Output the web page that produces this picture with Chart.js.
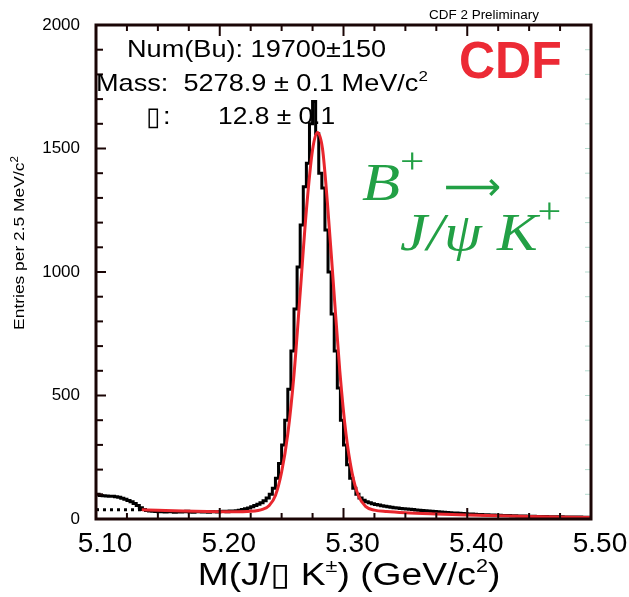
<!DOCTYPE html>
<html>
<head>
<meta charset="utf-8">
<script src="https://cdn.jsdelivr.net/npm/chart.js@4.4.0/dist/chart.umd.min.js"></script>
<style>
  html, body { margin: 0; padding: 0; background: #fff; }
  #wrap { width: 629px; height: 597px; }
</style>
</head>
<body>
<div id="wrap"><canvas id="massPlot" width="629" height="597"></canvas></div>
<script>
// B+ -> J/psi K+ invariant mass, 2.5 MeV bins from 5.100 to 5.500 GeV
var massLow = 5.10;
var binWidth = 0.0025;
var binCounts = [
  105, 100, 95, 94, 93, 92, 92, 90, 88, 84,
  80, 75, 70, 63, 55, 46, 38, 34, 32, 31,
  30, 29, 31, 28, 30, 29, 27, 30, 28, 29,
  31, 28, 27, 29, 30, 28, 29, 27, 30, 29,
  28, 30, 31, 29, 32, 31, 33, 35, 38, 42,
  45, 50, 55, 60, 66, 74, 85, 100, 125, 165,
  225, 300, 400, 525, 680, 850, 1020, 1190, 1345, 1440,
  1600, 1690, 1560, 1400, 1340, 1170, 1000, 830, 680, 530,
  400, 300, 220, 165, 125, 100, 85, 76, 70, 66,
  62, 59, 57, 54, 52, 50, 48, 46, 45, 43,
  42, 40, 39, 38, 36, 35, 34, 33, 32, 31,
  30, 29, 28, 27, 26, 25, 24, 24, 23, 22,
  21, 20, 20, 19, 18, 18, 17, 17, 16, 16,
  15, 15, 14, 14, 14, 13, 13, 12, 12, 12,
  11, 11, 11, 10, 10, 10, 10, 9, 9, 9,
  9, 9, 8, 8, 8, 8, 8, 8, 7, 7
];

// fitted signal + background curve
var fitMass = [5.137, 5.150, 5.170, 5.190, 5.210, 5.225, 5.235, 5.240, 5.245, 5.250,
  5.255, 5.260, 5.265, 5.270, 5.275, 5.2789, 5.283, 5.287, 5.292, 5.297,
  5.302, 5.307, 5.312, 5.318, 5.325, 5.335, 5.350, 5.375, 5.400, 5.450, 5.500];
var fitEntries = [37, 35, 32, 30, 29, 31, 40, 55, 95, 190,
  345, 585, 915, 1250, 1495, 1565, 1500, 1280, 940, 600,
  345, 185, 95, 50, 36, 30, 25, 20, 16, 10, 6];

// background extrapolation below the fit range
var bkgMass = [5.10, 5.137];
var bkgEntries = [38, 37];

var massTicks = [5.10, 5.20, 5.30, 5.40, 5.50];
var countTicks = [0, 500, 1000, 1500, 2000];

var SANS = '"Liberation Sans", Arial, Helvetica, sans-serif';
var SERIF = '"Liberation Serif", "Times New Roman", serif';

// histogram drawn from bin low edges, plus closing edge
var histPoints = binCounts.map(function(c, i) { return { x: massLow + i * binWidth, y: c }; });
histPoints.push({ x: massLow + binCounts.length * binWidth, y: binCounts[binCounts.length - 1] });

function zip(xs, ys) {
  return xs.map(function(x, i) { return { x: x, y: ys[i] }; });
}

// text with pieces in different fonts / raised as superscripts,
// stretched horizontally by hs
function drawRich(ctx, x, y, parts, align, hs) {
  hs = hs || 1;
  var w = 0;
  parts.forEach(function(p) { ctx.font = p[1]; w += ctx.measureText(p[0]).width; });
  ctx.save();
  ctx.translate(x, y);
  ctx.scale(hs, 1);
  var cx = align === 'center' ? -w / 2 : 0;
  ctx.textAlign = 'left';
  parts.forEach(function(p) {
    ctx.font = p[1];
    ctx.fillText(p[0], cx, -(p[2] || 0));
    cx += ctx.measureText(p[0]).width;
  });
  ctx.restore();
}

function seg(ctx, x1, y1, x2, y2) {
  ctx.beginPath(); ctx.moveTo(x1, y1); ctx.lineTo(x2, y2); ctx.stroke();
}

var frameTicks = {
  id: 'frameTicks',
  afterDatasetsDraw: function(chart) {
    var ctx = chart.ctx, xs = chart.scales.x, ys = chart.scales.y, a = chart.chartArea;
    ctx.save();
    ctx.strokeStyle = '#1a0505';
    ctx.lineWidth = 2;
    // inward ticks, left axis
    for (var v = 0; v <= 2000; v += 100) {
      var py = ys.getPixelForValue(v);
      seg(ctx, a.left, py, a.left + (v % 500 === 0 ? 10 : 7), py);
    }
    // inward ticks, top and bottom
    for (var i = 0; i <= 16; i++) {
      var px = xs.getPixelForValue(massLow + i * 0.025);
      var len = i % 4 === 0 ? 11 : 6;
      seg(ctx, px, a.bottom, px, a.bottom - len);
      seg(ctx, px, a.top, px, a.top + len);
    }
    // faint ticks on the right axis
    ctx.strokeStyle = '#b5ddd0';
    ctx.lineWidth = 1;
    for (var w = 100; w < 2000; w += 100) {
      var ry = ys.getPixelForValue(w);
      seg(ctx, a.right - 6, ry, a.right - 1, ry);
    }
    // frame
    ctx.strokeStyle = '#1a0505';
    ctx.lineWidth = 3;
    ctx.strokeRect(a.left, a.top, a.right - a.left, a.bottom - a.top);
    ctx.restore();
  },
  afterDraw: function(chart) {
    var ctx = chart.ctx;
    ctx.save();
    ctx.fillStyle = '#000';
    ctx.textBaseline = 'alphabetic';

    drawRich(ctx, 484, 19, [['CDF 2 Preliminary', '12px ' + SANS]], 'center', 1.12);

    ctx.fillStyle = '#ec2a35';
    drawRich(ctx, 459, 78, [['CDF', 'bold 51px ' + SANS]], 'left', 0.98);

    // fit results
    ctx.fillStyle = '#000';
    drawRich(ctx, 127, 57, [['Num(Bu): 19700\u00b1150', '24px ' + SANS]], 'left', 1.13);
    drawRich(ctx, 96, 91, [
      ['Mass:  5278.9 \u00b1 0.1 MeV/c', '24px ' + SANS],
      ['2', '15px ' + SANS, 10]
    ], 'left', 1.13);
    drawRich(ctx, 146, 125, [['\u25af', '26px "DejaVu Sans", sans-serif']]);
    drawRich(ctx, 163, 124, [[':', '24px ' + SANS]], 'left', 1.13);
    drawRich(ctx, 218, 124, [['12.8 \u00b1 0.1', '24px ' + SANS]], 'left', 1.1);

    // decay label
    ctx.fillStyle = '#22a045';
    drawRich(ctx, 362, 200, [
      ['B', 'italic 52px ' + SERIF],
      ['+', '36px ' + SERIF, 27]
    ], 'left', 1.2);
    drawRich(ctx, 444, 200, [['\u27f6', '40px "DejaVu Sans", sans-serif']], 'left', 1.0);
    drawRich(ctx, 400, 250, [
      ['J/\u03c8 K', 'italic 52px ' + SERIF],
      ['+', '36px ' + SERIF, 27]
    ], 'left', 1.17);

    // axis titles
    ctx.fillStyle = '#000';
    drawRich(ctx, 349, 585, [
      ['M(J/', '31px ' + SANS],
      ['\u25af', '31px "DejaVu Sans", sans-serif'],
      [' K', '31px ' + SANS],
      ['\u00b1', '18px ' + SANS, 13],
      [') (GeV/c', '31px ' + SANS],
      ['2', '18px ' + SANS, 13],
      [')', '31px ' + SANS]
    ], 'center', 1.2);

    ctx.translate(24, 243);
    ctx.rotate(-Math.PI / 2);
    drawRich(ctx, 0, 0, [
      ['Entries per 2.5 MeV/c', '15px ' + SANS],
      ['2', '10px ' + SANS, 6]
    ], 'center', 1.16);
    ctx.restore();
  }
};

new Chart(document.getElementById('massPlot').getContext('2d'), {
  type: 'line',
  data: {
    datasets: [{
      label: 'fit',
      data: zip(fitMass, fitEntries),
      borderColor: '#e8262d',
      borderWidth: 3,
      pointRadius: 0,
      cubicInterpolationMode: 'monotone',
      fill: false,
      order: 0
    }, {
      label: 'background',
      data: zip(bkgMass, bkgEntries),
      borderColor: '#000',
      borderWidth: 3,
      borderDash: [3, 4],
      pointRadius: 0,
      fill: false,
      order: 1
    }, {
      label: 'data',
      data: histPoints,
      borderColor: '#000',
      borderWidth: 3,
      pointRadius: 0,
      stepped: 'after',
      fill: false,
      order: 2
    }]
  },
  options: {
    responsive: false,
    animation: false,
    devicePixelRatio: 1,
    layout: { padding: { top: 25, right: 38, left: 0, bottom: 0 } },
    plugins: { legend: { display: false }, tooltip: { enabled: false } },
    scales: {
      x: {
        type: 'linear',
        min: 5.10,
        max: 5.50,
        afterFit: function(s) { s.height = 78; },
        afterBuildTicks: function(s) { s.ticks = massTicks.map(function(v) { return { value: v }; }); },
        grid: { display: false },
        border: { display: false },
        ticks: {
          color: '#000',
          padding: 0,
          labelOffset: 9,
          maxRotation: 0,
          font: { family: SANS, size: 28 },
          callback: function(v) { return v.toFixed(2); }
        }
      },
      y: {
        min: 0,
        max: 2000,
        afterFit: function(s) { s.width = 96; },
        afterBuildTicks: function(s) { s.ticks = countTicks.map(function(v) { return { value: v }; }); },
        grid: { display: false },
        border: { display: false },
        ticks: {
          color: '#000',
          padding: 8,
          font: { family: SANS, size: 17 },
          callback: function(v) { return String(v); }
        }
      }
    }
  },
  plugins: [frameTicks]
});
</script>
</body>
</html>
